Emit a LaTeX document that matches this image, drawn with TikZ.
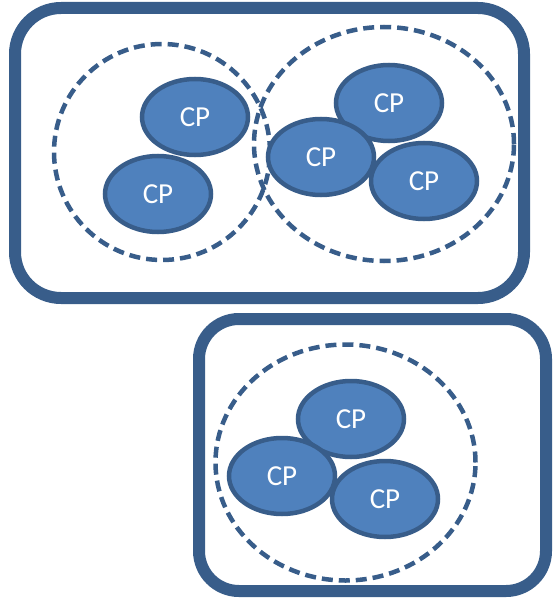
\documentclass[tikz,border=0pt]{standalone}
\usepackage{fontspec}
\setsansfont{Carlito}
\usetikzlibrary{shapes.geometric}
\definecolor{cpfill}{HTML}{4F81BD}
\definecolor{cpline}{HTML}{385D8A}
\tikzset{
  hostbox/.style={draw=cpline,line width=12pt,rounded corners=46pt,minimum width=#1,inner sep=0pt},
  cluster/.style={ellipse,draw=cpline,line width=4.5pt,dash pattern=on 11pt off 6pt,inner sep=0pt},
  cp/.style={ellipse,draw=cpline,fill=cpfill,line width=4.5pt,minimum width=106pt,minimum height=76pt,inner sep=0pt,
    text=white,font=\sffamily\fontsize{29}{30}\selectfont}
}
\begin{document}
\begin{tikzpicture}[x=1pt,y=-1pt]
  \useasboundingbox (0,0) rectangle (553,599);
  \node[hostbox=509pt,minimum height=290pt] (h1) at (269.5,153) {};
  \node[hostbox=347pt,minimum height=272pt,rounded corners=40pt] (h2) at (372.5,455) {};
  \node[cluster,minimum width=216pt,minimum height=216pt] (g1) at (162,152) {};
  \node[cluster,minimum width=260pt,minimum height=234pt] (g2) at (384,144) {};
  \node[cluster,minimum width=260pt,minimum height=236pt] (g3) at (345.5,462.5) {};
  \node[cp] (a1) at (195,117) {CP};
  \node[cp] (a2) at (158,194) {CP};
  \node[cp] (b1) at (389,103) {CP};
  \node[cp] (b2) at (321,157) {CP};
  \node[cp] (b3) at (424,181) {CP};
  \node[cp] (c1) at (351,419) {CP};
  \node[cp] (c2) at (282,476) {CP};
  \node[cp] (c3) at (385,499) {CP};
\end{tikzpicture}
\end{document}
